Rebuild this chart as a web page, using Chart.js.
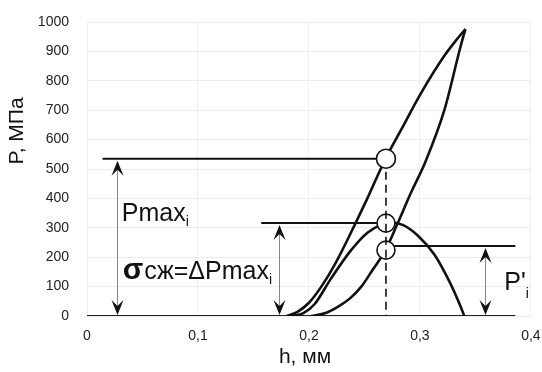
<!DOCTYPE html>
<html>
<head>
<meta charset="utf-8">
<script src="https://cdn.jsdelivr.net/npm/chart.js@4.4.0/dist/chart.umd.min.js"></script>
<style>
  html, body { margin: 0; padding: 0; background: #fff; }
</style>
</head>
<body>
<canvas id="chart" width="542" height="372"></canvas>
<script>
// Curves (h in mm, P in MPa)
const loadH = [0.180, 0.190, 0.200, 0.211, 0.224, 0.242, 0.252, 0.269, 0.283, 0.301, 0.322, 0.332, 0.341];
const loadP = [0, 15, 45, 99, 180, 316, 395, 535, 633, 758, 885, 935, 976];

const unloadH = [0.202, 0.215, 0.226, 0.237, 0.247, 0.257, 0.269, 0.280, 0.292, 0.305, 0.322, 0.3365, 0.341];
const unloadP = [0, 10, 31, 60, 99, 155, 224, 316, 420, 525, 700, 915, 976];

const deltaH = [0.184, 0.195, 0.205, 0.220, 0.238, 0.253, 0.265, 0.275, 0.285, 0.298, 0.313, 0.3275, 0.336, 0.340];
const deltaP = [0, 10, 40, 128, 224, 284, 310, 318, 309, 274, 209, 110, 38, 0];

// Markers and guide lines
const markH = 0.2694;
const circleP = [535, 316, 224];
const levelP = [535, 316, 238];
const levelFrom = [0.014, 0.157, markH];
const levelTo = [markH, markH, 0.386];
const baseH = [0, 0.386];

// Double arrows
const arrowH = [0.027, 0.173, 0.359];
const arrowTop = [535, 316, 238];

// Tick values
const xTicks = [0, 0.1, 0.2, 0.3, 0.4];
const yTicks = [0, 100, 200, 300, 400, 500, 600, 700, 800, 900, 1000];

const toPts = (hs, ps) => hs.map((h, i) => ({ x: h, y: ps[i] }));

const curveStyle = {
  borderColor: '#111',
  borderWidth: 2.6,
  pointRadius: 0,
  fill: false,
  cubicInterpolationMode: 'monotone',
  order: 4
};

const datasets = [
  // circle 1 on top of everything
  {
    data: [{ x: markH, y: circleP[0] }],
    showLine: false, pointRadius: 9.5, pointBackgroundColor: '#fff',
    pointBorderColor: '#111', pointBorderWidth: 1.6, order: 0
  },
  // dashed drop line
  {
    data: [{ x: markH, y: circleP[0] }, { x: markH, y: 0 }],
    borderColor: '#111', borderWidth: 1.6, borderDash: [8, 5], pointRadius: 0, order: 1
  },
  // circles 2, 3
  {
    data: [{ x: markH, y: circleP[1] }, { x: markH, y: circleP[2] }],
    showLine: false, pointRadius: 9, pointBackgroundColor: '#fff',
    pointBorderColor: '#111', pointBorderWidth: 1.6, order: 2
  },
  { ...curveStyle, data: toPts(loadH, loadP) },
  { ...curveStyle, data: toPts(unloadH, unloadP) },
  { ...curveStyle, data: toPts(deltaH, deltaP) },
  { data: toPts(baseH, [0, 0]), borderColor: '#222', borderWidth: 2, pointRadius: 0, order: 5 }
];
levelP.forEach((p, i) => {
  datasets.push({
    data: [{ x: levelFrom[i], y: p }, { x: levelTo[i], y: p }],
    borderColor: '#111', borderWidth: 2, pointRadius: 0, order: 3
  });
});

function drawHead(ctx, px, py, dir) {
  // chevron arrowhead, dir = 1 points up, -1 points down
  ctx.beginPath();
  ctx.moveTo(px, py);
  ctx.lineTo(px - 6, py + dir * 15);
  ctx.lineTo(px, py + dir * 9);
  ctx.lineTo(px + 6, py + dir * 15);
  ctx.closePath();
  ctx.fill();
}

function drawParts(ctx, parts, px, py) {
  let cx = px;
  parts.forEach(p => {
    ctx.font = p.font;
    ctx.fillText(p.text, cx, py + (p.dy || 0));
    cx += ctx.measureText(p.text).width + (p.gap || 0);
  });
}

const annotations = {
  id: 'annotations',
  afterDatasetsDraw(chart) {
    const { ctx, scales: { x, y } } = chart;
    ctx.save();
    ctx.fillStyle = '#111';
    arrowH.forEach((h, i) => {
      const px = Math.round(x.getPixelForValue(h)) + 0.5;
      const top = y.getPixelForValue(arrowTop[i]) + 2;
      const bottom = y.getPixelForValue(0) - 1;
      ctx.strokeStyle = '#888';
      ctx.lineWidth = 1;
      ctx.beginPath();
      ctx.moveTo(px, top + 8);
      ctx.lineTo(px, bottom - 8);
      ctx.stroke();
      drawHead(ctx, px, top, 1);
      drawHead(ctx, px, bottom, -1);
    });

    ctx.textBaseline = 'alphabetic';
    ctx.textAlign = 'left';
    const f = 'Liberation Sans, Arial, sans-serif';
    drawParts(ctx, [
      { text: 'Pmax', font: `25px ${f}` },
      { text: 'i', font: `14px ${f}`, dy: 5 }
    ], x.getPixelForValue(0.0313), y.getPixelForValue(323));
    drawParts(ctx, [
      { text: 'σ', font: `bold 30px ${f}`, gap: 1 },
      { text: 'сж=ΔPmax', font: `25px ${f}` },
      { text: 'i', font: `14px ${f}`, dy: 5 }
    ], x.getPixelForValue(0.0322), y.getPixelForValue(126));
    drawParts(ctx, [
      { text: "P'", font: `25px ${f}` },
      { text: 'i', font: `14px ${f}`, dy: 8 }
    ], x.getPixelForValue(0.376), y.getPixelForValue(88));

    // axis titles
    ctx.font = `21px ${f}`;
    ctx.textAlign = 'center';
    ctx.textBaseline = 'middle';
    ctx.fillText('h, мм', 305, 357);
    ctx.translate(17, 131);
    ctx.rotate(-Math.PI / 2);
    ctx.fillText('P, МПа', 0, 0);
    ctx.restore();
  }
};

new Chart(document.getElementById('chart'), {
  type: 'line',
  data: { datasets },
  options: {
    responsive: false,
    animation: false,
    layout: { padding: { top: 22, right: 8, left: 0, bottom: 0 } },
    plugins: { legend: { display: false }, tooltip: { enabled: false } },
    scales: {
      x: {
        type: 'linear', min: 0, max: 0.4,
        afterBuildTicks: s => { s.ticks = xTicks.map(v => ({ value: v })); },
        afterFit: s => { s.height = 56; s.paddingRight = 0; s.paddingLeft = 0; },
        grid: { color: '#f0f0f0', drawTicks: false },
        border: { display: false },
        ticks: {
          padding: 12, color: '#222',
          font: { family: 'Liberation Sans, Arial, sans-serif', size: 14 },
          callback: v => v === 0 ? '0' : v.toFixed(1).replace('.', ',')
        }
      },
      y: {
        type: 'linear', min: 0, max: 1000,
        afterBuildTicks: s => { s.ticks = yTicks.map(v => ({ value: v })); },
        afterFit: s => { s.width = 87; s.paddingTop = 0; s.paddingBottom = 0; },
        grid: { color: '#ececec', drawTicks: false },
        border: { display: false },
        ticks: {
          padding: 18, color: '#222',
          font: { family: 'Liberation Sans, Arial, sans-serif', size: 14 },
          callback: v => String(v)
        }
      }
    }
  },
  plugins: [annotations]
});
</script>
</body>
</html>
